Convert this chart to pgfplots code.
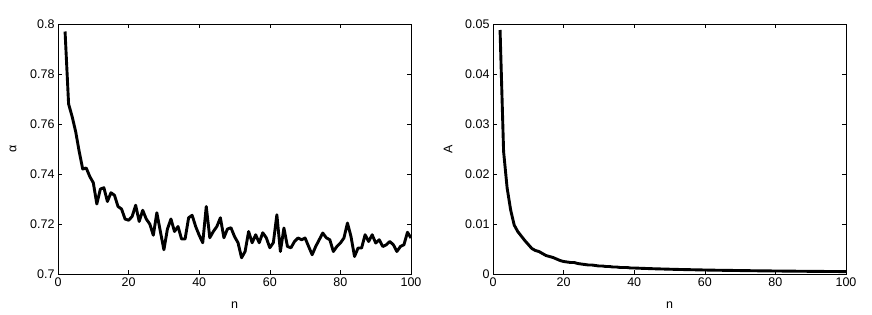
\documentclass[border=0pt]{standalone}
\usepackage{fontspec}
\setmainfont{Liberation Sans}
\usepackage{pgfplots}
\usepackage{pgfplotstable}
\pgfplotsset{compat=1.18}

% alpha against n
\pgfplotstableread{
n alpha
2 0.797
3 0.768
4 0.763
5 0.757
6 0.749
7 0.742
8 0.7424
9 0.739
10 0.7365
11 0.728
12 0.734
13 0.7345
14 0.729
15 0.7325
16 0.7315
17 0.727
18 0.726
19 0.722
20 0.7215
21 0.723
22 0.7275
23 0.721
24 0.7255
25 0.722
26 0.720
27 0.7155
28 0.7245
29 0.717
30 0.7097
31 0.718
32 0.722
33 0.717
34 0.719
35 0.714
36 0.714
37 0.7225
38 0.7235
39 0.719
40 0.7155
41 0.7125
42 0.727
43 0.7145
44 0.717
45 0.719
46 0.7225
47 0.7145
48 0.718
49 0.7185
50 0.715
51 0.7125
52 0.7065
53 0.709
54 0.717
55 0.7125
56 0.7157
57 0.7125
58 0.7165
59 0.7145
60 0.7105
61 0.7125
62 0.7237
63 0.709
64 0.7184
65 0.711
66 0.7105
67 0.713
68 0.7144
69 0.7137
70 0.7144
71 0.711
72 0.7077
73 0.711
74 0.7137
75 0.7164
76 0.7145
77 0.7137
78 0.709
79 0.711
80 0.7124
81 0.7144
82 0.7204
83 0.715
84 0.707
85 0.7104
86 0.7104
87 0.7157
88 0.713
89 0.7157
90 0.7124
91 0.7137
92 0.711
93 0.7117
94 0.713
95 0.7117
96 0.709
97 0.711
98 0.7117
99 0.7167
100 0.7144
}\alphatable

% A against n
\pgfplotstableread{
n A
2 0.0488
3 0.0245
4 0.0172
5 0.0128
6 0.0098
7 0.0085
8 0.0076
9 0.0067
10 0.0059
11 0.0051
12 0.0047
13 0.0045
14 0.0041
15 0.0037
16 0.0035
17 0.0033
18 0.0030
19 0.0027
20 0.0025
21 0.0024
22 0.0023
23 0.0023
24 0.0021
25 0.0020
26 0.0019
27 0.0018
28 0.0018
29 0.0017
30 0.0016
31 0.0016
32 0.0015
33 0.0015
34 0.0014
35 0.0014
36 0.0013
37 0.0013
38 0.0013
39 0.0012
40 0.0012
42 0.00114
44 0.00109
46 0.00104
48 0.00100
50 0.00096
52 0.00092
54 0.00089
56 0.00086
58 0.00083
60 0.00080
62 0.00077
64 0.00075
66 0.00073
68 0.00071
70 0.00069
72 0.00067
74 0.00065
76 0.00063
78 0.00062
80 0.00060
82 0.00059
84 0.00057
86 0.00056
88 0.00055
90 0.00053
92 0.00052
94 0.00051
96 0.00050
98 0.00049
100 0.00048
}\Atable

\pgfplotsset{matlab/.style={
  scale only axis, width=353pt, height=250pt,
  xmin=0, xmax=100, xtick={0,20,40,60,80,100},
  tick align=inside, tick pos=both,
  major tick length=4pt,
  every tick/.style={black, line width=0.5pt},
  axis line style={line width=0.6pt},
  tick label style={font=\fontsize{12.5}{14}\selectfont},
  /pgf/number format/assume math mode=true,
  yticklabel style={/pgf/number format/fixed, /pgf/number format/precision=2},
  scaled y ticks=false,
  xlabel={n},
  every axis y label/.style={at={(axis description cs:0,0.5)}, xshift=-45pt, rotate=90, anchor=center, font=\fontsize{12.5}{14}\selectfont},
  every axis x label/.style={at={(axis description cs:0.5,0)}, yshift=-31pt, anchor=center, font=\fontsize{12.5}{14}\selectfont},
}}

\begin{document}
\begin{tikzpicture}
\useasboundingbox (0,0) rectangle (872pt,314pt);
\begin{axis}[matlab, at={(58pt,40pt)}, anchor=south west,
  ymin=0.7, ymax=0.8, ytick={0.7,0.72,0.74,0.76,0.78,0.8},
  ylabel={α}]
\addplot[black, line width=2.9pt, line join=round] table[x=n, y=alpha] {\alphatable};
\end{axis}
\begin{axis}[matlab, at={(493pt,40pt)}, anchor=south west,
  ymin=0, ymax=0.05, ytick={0,0.01,0.02,0.03,0.04,0.05},
  ylabel={A}]
\addplot[black, line width=2.9pt, line join=round] table[x=n, y=A] {\Atable};
\end{axis}
\end{tikzpicture}
\end{document}
